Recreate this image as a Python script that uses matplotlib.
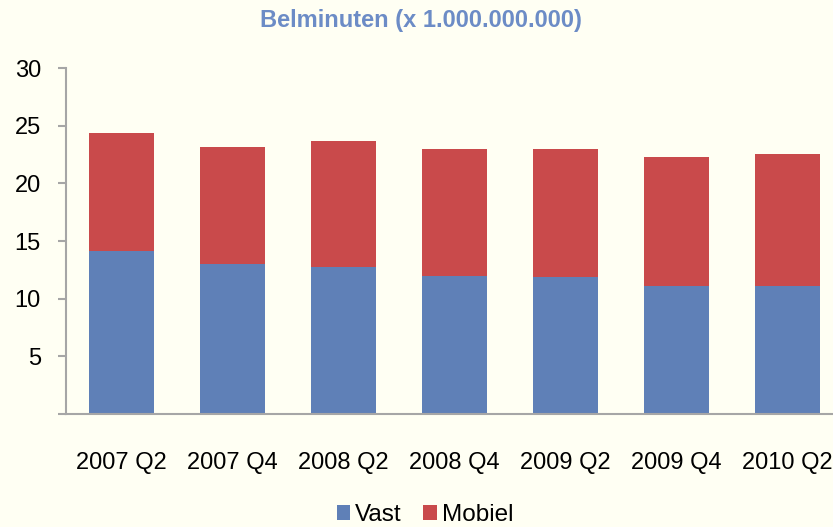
import numpy as np
import matplotlib
matplotlib.use("Agg")
import matplotlib.pyplot as plt

# Data (x 1.000.000.000 belminuten)
kwartalen = ["2007 Q2", "2007 Q4", "2008 Q2", "2008 Q4", "2009 Q2", "2009 Q4", "2010 Q2"]
vast = [14.15, 13.0, 12.75, 11.95, 11.9, 11.1, 11.1]
mobiel = [10.2, 10.15, 10.95, 11.05, 11.1, 11.2, 11.45]

plt.rcParams['font.family'] = ['Liberation Sans', 'DejaVu Sans']

bg = '#FFFFF3'
blauw = '#5F80B7'
rood = '#C94A4B'
grijs = '#A6A6A6'

fig = plt.figure(figsize=(8.33, 5.27), dpi=100, facecolor=bg)
ax = fig.add_axes([66 / 833, 113 / 527, 777 / 833, 346 / 527], facecolor=bg)

x = np.arange(len(kwartalen))
breedte = 0.577
ax.bar(x, vast, breedte, color=blauw, label="Vast", linewidth=0)
ax.bar(x, mobiel, breedte, bottom=vast, color=rood, label="Mobiel", linewidth=0)

ax.set_xlim(-0.5, len(kwartalen) - 0.5)
ax.set_ylim(0, 30)
ax.set_yticks(range(0, 31, 5))
ax.set_yticklabels([''] + [str(v) for v in range(5, 31, 5)])
ax.set_xticks(x)
ax.set_xticklabels(kwartalen)

for s in ['top', 'right']:
    ax.spines[s].set_visible(False)
for s in ['left', 'bottom']:
    ax.spines[s].set_color(grijs)
    ax.spines[s].set_linewidth(1.5)

ax.tick_params(axis='y', direction='out', length=6, width=1.5, color=grijs,
               labelsize=17, pad=12)
ax.tick_params(axis='x', length=0, labelsize=17, pad=27)

fig.text(0.505, 0.962, "Belminuten (x 1.000.000.000)", ha='center', va='center',
         fontsize=17, fontweight='bold', color='#6C8CC6')

fig.legend(loc='center', bbox_to_anchor=(0.51, 0.022), ncol=2, frameon=False,
           fontsize=17.5, handlelength=0.55, handleheight=0.55, handletextpad=0.2,
           columnspacing=0.9, borderaxespad=0)

fig.savefig("out.png", dpi=100, facecolor=bg)
